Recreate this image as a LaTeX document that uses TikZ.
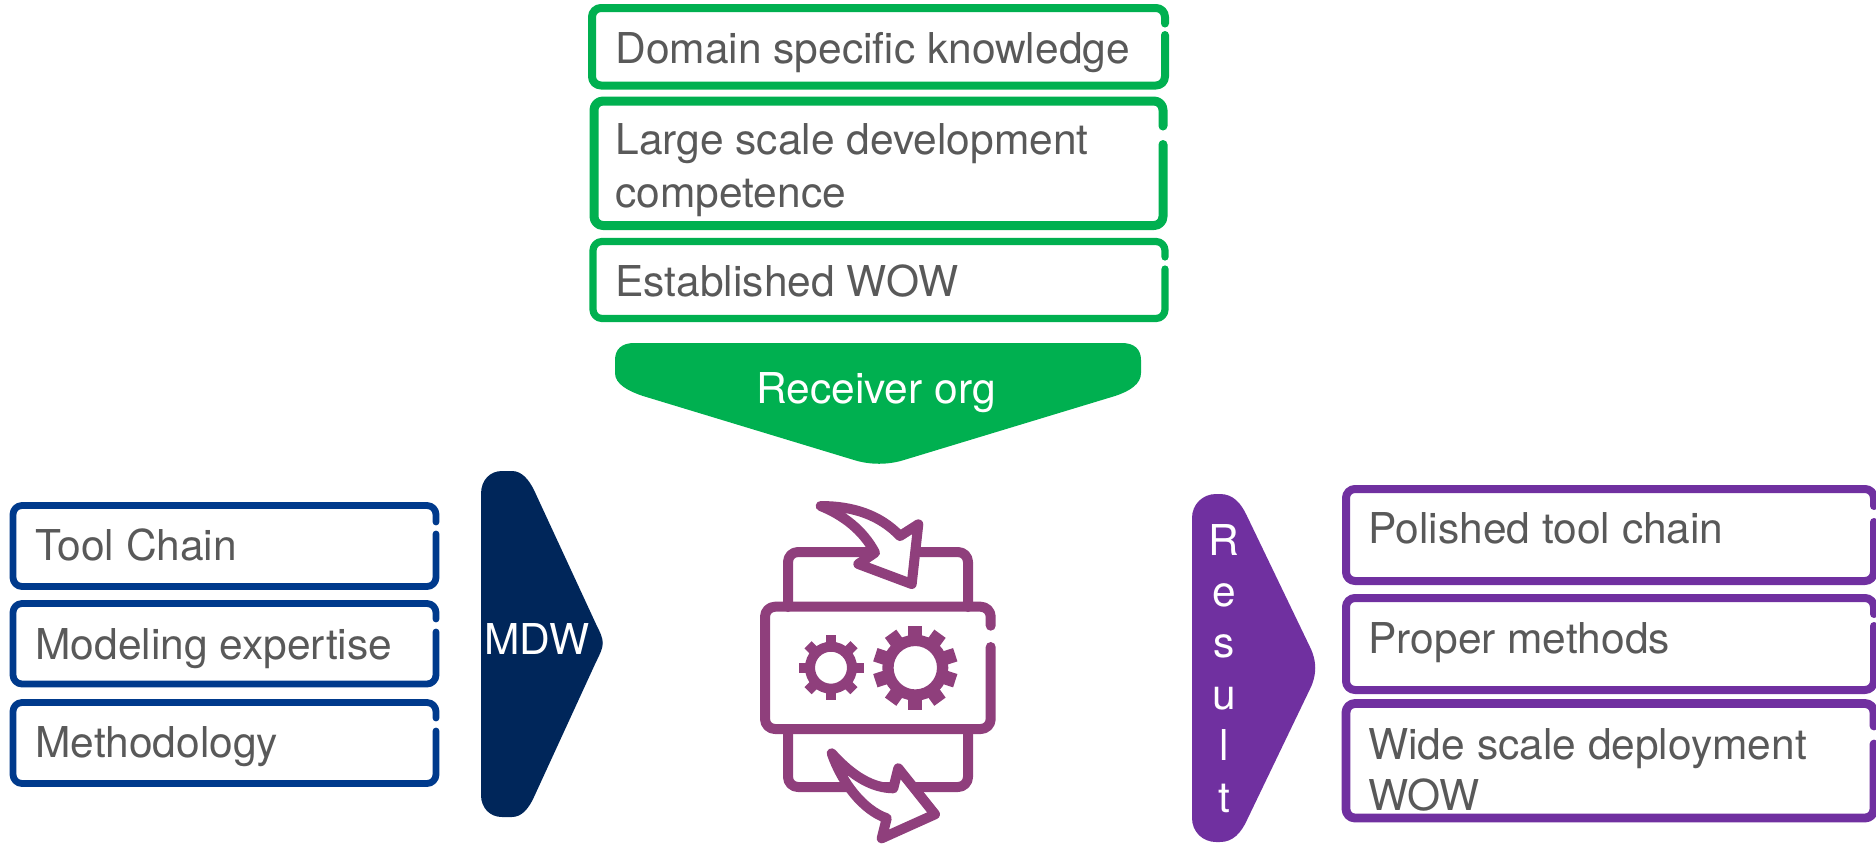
\documentclass[tikz,border=0pt]{standalone}
\usepackage{fontspec}
\setmainfont{TeX Gyre Heros}
\usetikzlibrary{calc}
\definecolor{cgreen}{HTML}{00B050}
\definecolor{cblue}{HTML}{003A8C}
\definecolor{cnavy}{HTML}{00265A}
\definecolor{cpurple}{HTML}{7030A0}
\definecolor{cicon}{HTML}{8F3F7C}
\definecolor{ctext}{HTML}{595959}
\newcommand{\gapbox}[7]{%
  \draw[boxline,#7] (#3,#6) -- (#3,#4) -- (#1,#4) -- (#1,#2) -- (#3,#2) -- (#3,#5);}
\newcommand{\gear}[7]{% x y hole ringouter tooth-outer tooth-width angles
  \draw[draw=cicon,line width=#4*0.5pt-#3*0.5pt] (#1,#2) circle[radius=#3/2+#4/2];
  \foreach \a in {#7}{
    \draw[toothline,line width=#6] ($(#1,#2)+(\a:#4-2)$) -- ($(#1,#2)+(\a:#5)$);
  }}
\tikzset{
  x=0.5pt,y=-0.5pt,
  boxline/.style={line width=4pt,rounded corners=4.5pt,line cap=round,line join=round},
  label/.style={inner sep=0pt,anchor=base west,text=ctext,font=\fontsize{21.25}{26.5}\selectfont,align=left},
  onarrow/.style={inner sep=0pt,anchor=base,text=white,font=\fontsize{21.25}{25.7}\selectfont,align=center},
  icon/.style={draw=cicon,line width=5pt,line join=round,line cap=round},
  toothline/.style={draw=cicon,line cap=butt},
}
\begin{document}
\begin{tikzpicture}
\useasboundingbox (0,0) rectangle (1876,843);

% green column
\gapbox{592}{8}{1165}{85.5}{23.5}{35}{draw=cgreen}
\gapbox{594}{101}{1163}{225.5}{126}{144.5}{draw=cgreen,line width=4.5pt}
\gapbox{593}{241.5}{1165}{318.5}{257}{269}{draw=cgreen,line width=3.6pt}
\node[label] (domain) at (615,63) {Domain specific knowledge};
\node[label] (large) at (615,207) {Large scale development\\competence};
\node[label] (established) at (615,296) {Established WOW};

\fill[cgreen] (615,360) .. controls (615,349) and (622,343) .. (634,343) -- (1122,343)
  .. controls (1134,343) and (1141,349) .. (1141,360) -- (1141,373)
  .. controls (1141,384) and (1130,391) .. (1115,396) -- (904,460)
  .. controls (888,465) and (870,465) .. (854,460) -- (643,396)
  .. controls (628,391) and (615,384) .. (615,373) -- cycle;
\node[onarrow] (receiver) at (876,403) {Receiver org};

% blue column
\gapbox{13}{505.5}{436}{586.5}{522}{534}{draw=cblue,line width=3.4pt}
\gapbox{13}{603.5}{436}{684}{619}{632}{draw=cblue,line width=3.4pt}
\gapbox{13}{702.5}{436}{783.5}{718}{731}{draw=cblue,line width=3.4pt}
\node[label] (tool) at (35,560) {Tool Chain};
\node[label] (model) at (35,659) {Modeling expertise};
\node[label] (method) at (35,757) {Methodology};

\fill[cnavy] (481,494) .. controls (481,480) and (490,471) .. (502,471) -- (512,471)
  .. controls (522,471) and (529,480) .. (534,490) -- (596,624)
  .. controls (605,642) and (605,644) .. (596,662) -- (534,797)
  .. controls (529,808) and (522,817) .. (512,817) -- (502,817)
  .. controls (490,817) and (481,808) .. (481,795) -- cycle;
\node[onarrow] (mdw) at (537,654) {MDW};

% purple column
\gapbox{1346}{489}{1874}{581}{506}{522}{draw=cpurple}
\gapbox{1346}{598}{1874}{690}{614}{626}{draw=cpurple}
\gapbox{1346}{703.5}{1874}{818}{726}{744}{draw=cpurple,line width=4.4pt}
\node[label] (polished) at (1368,543) {Polished tool chain};
\node[label] (proper) at (1368,653) {Proper methods};
\node[label,font=\fontsize{21.25}{25.5}\selectfont] (wide) at (1368,810) {Wide scale deployment\\WOW};

\fill[cpurple] (1192,518) .. controls (1192,504) and (1203,494) .. (1216,494) -- (1220,494)
  .. controls (1233,494) and (1241,503) .. (1247,516) -- (1310,647)
  .. controls (1317,661) and (1317,675) .. (1310,689) -- (1247,820)
  .. controls (1241,833) and (1233,842) .. (1220,842) -- (1216,842)
  .. controls (1203,842) and (1192,832) .. (1192,818) -- cycle;
\node[onarrow] (result) at (1224,812) {R\\e\\s\\u\\l\\t};

% icon: back panels
\draw[icon,rounded corners=5pt] (788,607) -- (788,552) -- (968,552) -- (968,607);
\draw[icon,rounded corners=5pt] (788,729) -- (788,787) -- (968,787) -- (968,729);
% icon: middle panel with gap
\draw[icon,rounded corners=5pt] (990.7,647) -- (990.7,729) -- (765,729) -- (765,606.7) -- (990.7,606.7) -- (990.7,625.7);
% icon: gears
\gear{831}{667.7}{16}{26}{32.5}{5pt}{0,45,90,135,180,225,270,315}
\gear{915.3}{667.7}{21.7}{33}{42}{7pt}{18,54,90,126,162,198,234,270,306,342}
% icon: arrows
\draw[icon,fill=white] (820.7,506) .. controls (853,506) and (880,515) .. (900,536)
  -- (918.3,524.3) -- (911.7,584) -- (858.3,564) -- (875,552.7)
  .. controls (863,530) and (843,515) .. cycle;
\draw[icon,fill=white] (831.7,753.3) .. controls (853,777) and (873,788) .. (893.3,788.3)
  -- (898.3,768.3) -- (935,814.3) -- (881.7,838.3) -- (886.7,818.3)
  .. controls (863,810) and (842,783) .. cycle;
\end{tikzpicture}
\end{document}
